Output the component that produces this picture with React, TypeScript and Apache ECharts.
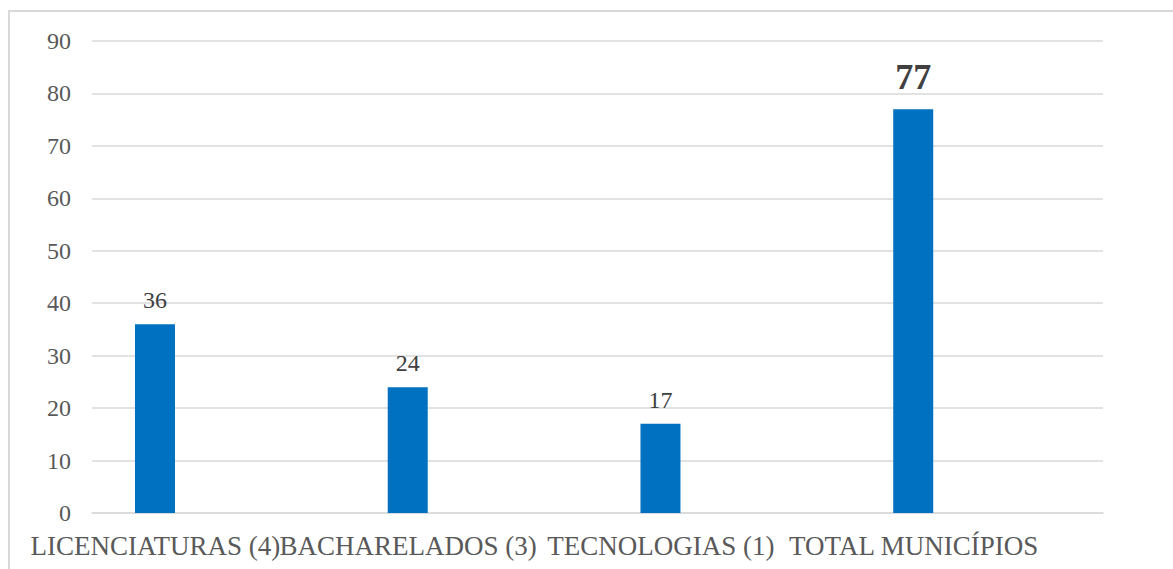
import React, { useEffect, useRef } from "react";
import * as echarts from "echarts";

const categories = ["LICENCIATURAS (4)", "BACHARELADOS (3)", "TECNOLOGIAS (1)", "TOTAL MUNICÍPIOS"];
const values = [36, 24, 17, 77];
const emptySeries = [null, null, null, null];
const yMin = 0;
const yMax = 90;
const yStep = 10;

const FONT = "Liberation Serif";
const TEXT = "#595959";

export default function App() {
  const ref = useRef<HTMLDivElement>(null);
  useEffect(() => {
    document.body.style.margin = "0";
    const chart = echarts.init(ref.current!, null, { renderer: "svg" });
    chart.setOption({
      animation: false,
      backgroundColor: "#ffffff",
      textStyle: { fontFamily: FONT },
      graphic: [
        {
          type: "rect",
          shape: { x: 9, y: 11, width: 1300, height: 700 },
          style: { fill: "none", stroke: "#D9D9D9", lineWidth: 2 },
          silent: true,
        },
      ],
      grid: {
        left: 92,
        right: 70,
        top: 41,
        bottom: 56,
        containLabel: false,
        outerBoundsMode: "none",
      },
      xAxis: {
        type: "category",
        data: categories,
        axisLine: { show: true, lineStyle: { color: "#D9D9D9", width: 1.5 } },
        axisTick: { show: false },
        axisLabel: {
          interval: 0,
          margin: 19,
          fontFamily: FONT,
          fontSize: 27,
          color: TEXT,
          formatter: (v: string) => `{a|${v}}`,
          rich: {
            a: {
              fontFamily: FONT,
              fontSize: 27,
              color: TEXT,
              padding: [0, 126, 0, 0],
            },
          },
        },
      },
      yAxis: {
        type: "value",
        min: yMin,
        max: yMax,
        interval: yStep,
        axisLine: { show: false },
        axisTick: { show: false },
        axisLabel: { fontFamily: FONT, fontSize: 24, color: TEXT, margin: 21 },
        splitLine: { lineStyle: { color: "#D9D9D9", width: 1.5 } },
      },
      series: [
        {
          type: "bar",
          data: values.map((v, i) =>
            i === values.length - 1
              ? { value: v, label: { fontFamily: FONT, fontSize: 36, fontWeight: "bold", color: "#404040", distance: 14 } }
              : v
          ),
          barWidth: 40,
          barGap: "217%",
          itemStyle: { color: "#0070C0" },
          label: {
            show: true,
            position: "top",
            distance: 12,
            fontFamily: FONT,
            fontSize: 24,
            color: "#404040",
          },
        },
        {
          type: "bar",
          data: emptySeries,
          barWidth: 40,
          itemStyle: { color: "#ED7D31" },
        },
      ],
    });
    return () => chart.dispose();
  }, []);
  return <div ref={ref} style={{ width: 1173, height: 569 }} />;
}
